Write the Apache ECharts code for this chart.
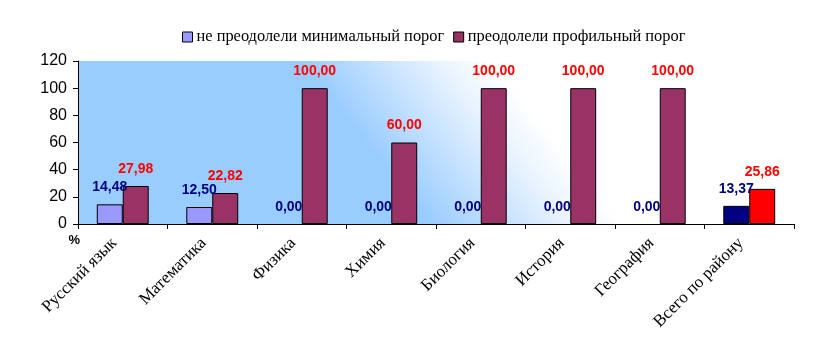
<!DOCTYPE html>
<html>
<head>
<meta charset="utf-8">
<script src="https://cdn.jsdelivr.net/npm/echarts@6/dist/echarts.min.js"></script>
<style>
html,body{margin:0;padding:0;background:#fff;}
#chart{width:813px;height:358px;}
</style>
</head>
<body>
<div id="chart"></div>
<script>
const categories = ['Русский язык','Математика','Физика','Химия','Биология','История','География','Всего по району'];
const seriesNames = ['не преодолели минимальный порог','преодолели профильный порог'];
const notPassedMin = [14.48, 12.50, 0.00, 0.00, 0.00, 0.00, 0.00, 13.37];
const passedProfile = [27.98, 22.82, 100.00, 60.00, 100.00, 100.00, 100.00, 25.86];
const yTicks = {min: 0, max: 120, interval: 20};

const chart = echarts.init(document.getElementById('chart'), null, {renderer: 'canvas'});

function fmt(v){ return v.toFixed(2).replace('.', ','); }

function buildData(values, lastColor) {
  return values.map((v, i) => {
    const item = {value: v};
    const style = {};
    if (i === values.length - 1) style.color = lastColor;
    if (v === 0) style.borderWidth = 0;
    item.itemStyle = style;
    return item;
  });
}
const s1Data = buildData(notPassedMin, '#000080');
const s2Data = buildData(passedProfile, '#ff0000');

const labelBase = {
  show: true, position: 'top', distance: 10,
  fontFamily: 'Liberation Sans, Arial, sans-serif', fontWeight: 'bold', fontSize: 14,
  formatter: p => fmt(p.value)
};

chart.setOption({
  animation: false,
  legend: {
    top: 24, left: 177,
    itemWidth: 10, itemHeight: 10, itemGap: 9,
    textStyle: {fontFamily: 'Liberation Serif, Times New Roman, serif', fontSize: 16.4, color: '#000', padding: [0, 0, 0, -1]},
    data: [
      {name: seriesNames[0], icon: 'rect', itemStyle: {color: '#9999ff', borderColor: '#000', borderWidth: 1}},
      {name: seriesNames[1], icon: 'rect', itemStyle: {color: '#993366', borderColor: '#000', borderWidth: 1}}
    ]
  },
  grid: {
    left: 78, right: 19, top: 61, bottom: 134,
    show: true, borderWidth: 0,
    backgroundColor: {
      type: 'linear', global: true,
      x: 300, y: 61, x2: 456, y2: -64,
      colorStops: [
        {offset: 0, color: '#99ccff'},
        {offset: 0.3, color: '#c6e2ff'},
        {offset: 0.55, color: '#eaf4ff'},
        {offset: 0.75, color: '#ffffff'},
        {offset: 1, color: '#ffffff'}
      ]
    }
  },
  xAxis: {
    type: 'category', data: categories,
    axisLine: {lineStyle: {color: '#000', width: 1}},
    axisTick: {show: true, length: 5, lineStyle: {color: '#000'}},
    axisLabel: {
      rotate: 45, margin: 8, interval: 0, padding: [0, 12, 0, 0],
      fontFamily: 'Liberation Serif, Times New Roman, serif', fontSize: 17, color: '#000'
    },
    splitLine: {show: false}
  },
  yAxis: {
    type: 'value', min: yTicks.min, max: yTicks.max, interval: yTicks.interval,
    name: '%', nameLocation: 'start', nameGap: 10,
    nameTextStyle: {fontFamily: 'Liberation Sans, Arial, sans-serif', fontWeight: 'bold', fontSize: 13, color: '#000', align: 'right', padding: [0, -2, 0, 0]},
    axisLine: {show: true, lineStyle: {color: '#000', width: 1}},
    axisTick: {show: true, length: 5, lineStyle: {color: '#000'}},
    axisLabel: {fontFamily: 'Liberation Sans, Arial, sans-serif', fontSize: 16, color: '#000', margin: 11},
    splitLine: {show: false}
  },
  series: [
    {
      name: seriesNames[0], type: 'bar', data: s1Data,
      barGap: '0%', barCategoryGap: '42%',
      itemStyle: {color: '#9999ff', borderColor: '#000', borderWidth: 1},
      label: Object.assign({}, labelBase, {color: '#000080'})
    },
    {
      name: seriesNames[1], type: 'bar', data: s2Data,
      barGap: '0%', barCategoryGap: '42%',
      itemStyle: {color: '#993366', borderColor: '#000', borderWidth: 1},
      label: Object.assign({}, labelBase, {color: '#ff0000'})
    }
  ]
});
</script>
</body>
</html>
